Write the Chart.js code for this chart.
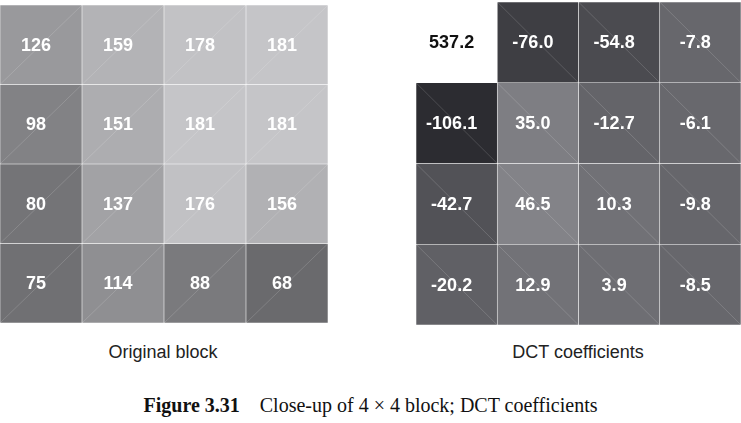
<!DOCTYPE html>
<html>
<head>
<meta charset="utf-8">
<script src="https://cdn.jsdelivr.net/npm/chart.js@4/dist/chart.umd.min.js"></script>
<style>
  body { margin:0; width:741px; height:423px; background:#fff; position:relative; font-family:"Liberation Sans", Arial, sans-serif; }
  .box { position:absolute; }
  .lbl { position:absolute; font-size:18px; color:#222; text-align:center; }
  .cap { position:absolute; left:0; width:741px; top:394px; text-align:center; font-family:"Liberation Serif", serif; font-size:20px; color:#111; }
</style>
</head>
<body>
<div class="box" style="left:0;top:5px;width:328px;height:318px"><canvas id="orig"></canvas></div>
<div class="box" style="left:416px;top:2px;width:325px;height:323px"><canvas id="dct"></canvas></div>
<div class="lbl" style="left:63px;top:342px;width:200px">Original block</div>
<div class="lbl" style="left:478px;top:342px;width:200px">DCT coefficients</div>
<div class="cap"><b>Figure 3.31</b>&nbsp;&nbsp;&nbsp; Close-up of 4 × 4 block; DCT coefficients</div>
<script>
// ---- Data ----
const columns = ['0', '1', '2', '3'];
const originalBlock = [
  [126, 159, 178, 181],
  [98, 151, 181, 181],
  [80, 137, 176, 156],
  [75, 114, 88, 68]
];
const dctCoefficients = [
  [537.2, -76.0, -54.8, -7.8],
  [-106.1, 35.0, -12.7, -6.1],
  [-42.7, 46.5, 10.3, -9.8],
  [-20.2, 12.9, 3.9, -8.5]
];

function grayOrig(v) {
  const g = Math.round(52 + 0.8 * v);
  return `rgb(${g},${g},${g + 3})`;
}
function grayDct(v) {
  if (v > 200) return '#ffffff';
  const g = Math.round(v < 0 ? 108 + 0.6 * v : 108 + 0.5 * v);
  return `rgb(${g},${g},${g + 5})`;
}

// draws cell values and the faint diagonal seams
const cellText = {
  id: 'cellText',
  afterDatasetsDraw(chart, args, opts) {
    const ctx = chart.ctx;
    ctx.save();
    chart.data.datasets.forEach((ds, r) => {
      chart.getDatasetMeta(r).data.forEach((bar, c) => {
        const v = opts.values[r][c];
        const left = bar.x - bar.width / 2, right = bar.x + bar.width / 2;
        const top = Math.min(bar.y, bar.base), bottom = Math.max(bar.y, bar.base);
        if (!(opts.skipWhite && v > 200)) {
          ctx.strokeStyle = 'rgba(255,255,255,0.22)';
          ctx.lineWidth = 0.7;
          ctx.beginPath();
          if (opts.dir > 0) { ctx.moveTo(left, bottom); ctx.lineTo(right, top); }
          else { ctx.moveTo(left, top); ctx.lineTo(right, bottom); }
          ctx.stroke();
        }
        ctx.fillStyle = v > 200 ? '#111' : '#fff';
        ctx.font = 'bold 18px "Liberation Sans", Arial, sans-serif';
        ctx.textAlign = 'center';
        ctx.textBaseline = 'middle';
        const txt = opts.decimals ? v.toFixed(1) : String(v);
        ctx.fillText(txt, bar.x - 5, (top + bottom) / 2 + 1);
      });
    });
    ctx.restore();
  }
};

function makeGrid(id, values, colorFn, dir, decimals) {
  new Chart(document.getElementById(id), {
    type: 'bar',
    data: {
      labels: columns,
      datasets: values.map((row, r) => ({
        data: row.map(() => [r, r + 1]),
        backgroundColor: row.map(colorFn),
        borderColor: row.map(v => v > 200 ? '#fff' : 'rgba(255,255,255,0.25)'),
        borderWidth: 0.6,
        borderSkipped: false,
        barPercentage: 1,
        categoryPercentage: 1,
        grouped: false
      }))
    },
    options: {
      responsive: true,
      maintainAspectRatio: false,
      animation: false,
      layout: { padding: 0 },
      scales: {
        x: { display: false },
        y: { display: false, reverse: true, min: 0, max: 4 }
      },
      plugins: {
        legend: { display: false },
        tooltip: { enabled: false },
        cellText: { values, dir, decimals, skipWhite: true }
      }
    },
    plugins: [cellText]
  });
}

makeGrid('orig', originalBlock, grayOrig, 1, false);
makeGrid('dct', dctCoefficients, grayDct, -1, true);
</script>
</body>
</html>
